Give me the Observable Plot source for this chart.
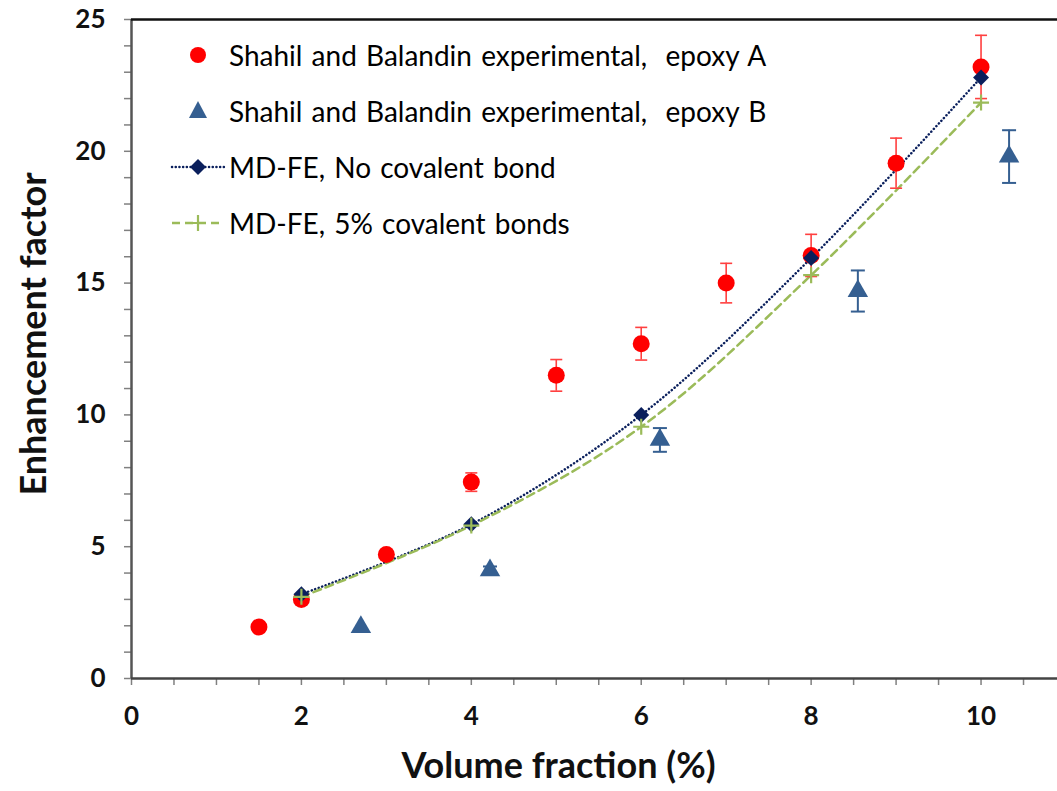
<!DOCTYPE html>
<html><head><meta charset="utf-8">
<script src="https://cdn.jsdelivr.net/npm/d3@7"></script>
<script src="https://cdn.jsdelivr.net/npm/@observablehq/plot@0.6"></script>
<style>
body{margin:0;background:#fff;}
#wrap{position:relative;width:1057px;height:791px;font-family:Lato,sans-serif;}
#legend{position:absolute;left:170px;top:27px;}
.row{display:flex;align-items:center;height:56px;font-size:28px;color:#000;white-space:pre;word-spacing:2px;}
.row svg{width:56px;height:30px;margin-right:3px;flex:none;}
</style></head><body><div id="wrap"></div>
<script>
// --- data ---
const epoxyA_x   = [1.5, 2, 3, 4, 5, 6, 7, 8, 9, 10];
const epoxyA_y   = [1.95, 3.0, 4.7, 7.45, 11.5, 12.7, 15.0, 16.05, 19.55, 23.2];
const epoxyA_err = [0, 0, 0, 0.35, 0.6, 0.62, 0.75, 0.8, 0.95, 1.2];
const epoxyB_x   = [2.7, 4.22, 6.22, 8.55, 10.33];
const epoxyB_y   = [1.95, 4.1, 9.05, 14.7, 19.8];
const epoxyB_err = [0, 0.15, 0.45, 0.78, 1.0];
const md_x       = [2, 4, 6, 8, 10];
const mdNoBond_y = [3.2, 5.85, 10.0, 15.95, 22.8];
const md5pct_y   = [3.1, 5.8, 9.55, 15.3, 21.85];
const xTickLabels = [0, 2, 4, 6, 8, 10];
const yTickLabels = [0, 5, 10, 15, 20, 25];
const legendLabels = [
  "Shahil and Balandin experimental,  epoxy A",
  "Shahil and Balandin experimental,  epoxy B",
  "MD-FE, No covalent bond",
  "MD-FE, 5% covalent bonds"
];

const RED = "#ff0000", ERR_RED = "#ff4040", TRI = "#355f91", NAVY = "#0a1f5c", GREEN = "#9bbb59";

const A = epoxyA_x.map((x, i) => ({x, y: epoxyA_y[i], e: epoxyA_err[i]}));
const B = epoxyB_x.map((x, i) => ({x, y: epoxyB_y[i], e: epoxyB_err[i]}));
const M0 = md_x.map((x, i) => ({x, y: mdNoBond_y[i]}));
const M5 = md_x.map((x, i) => ({x, y: md5pct_y[i]}));

const capSym = {draw(ctx, size){ const r = Math.sqrt(size/Math.PI); ctx.moveTo(-r,0); ctx.lineTo(r,0); }};
const plusSym = {draw(ctx, size){ const r = Math.sqrt(size/Math.PI); ctx.moveTo(-r,0); ctx.lineTo(r,0); ctx.moveTo(0,-r); ctx.lineTo(0,r); }};

const errBars = (data, color, capR, width) => [
  Plot.ruleX(data.filter(d => d.e > 0), {x: "x", y1: d => d.y - d.e, y2: d => d.y + d.e, stroke: color, strokeWidth: width}),
  Plot.dot(data.filter(d => d.e > 0), {x: "x", y: d => d.y + d.e, symbol: capSym, r: capR, stroke: color, strokeWidth: width}),
  Plot.dot(data.filter(d => d.e > 0), {x: "x", y: d => d.y - d.e, symbol: capSym, r: capR, stroke: color, strokeWidth: width})
];

const chart = Plot.plot({
  width: 1057, height: 791,
  marginLeft: 131, marginRight: 0, marginTop: 19, marginBottom: 113,
  style: {fontFamily: "Lato, sans-serif", background: "#fff", overflow: "visible"},
  x: {domain: [0, 10.9]},
  y: {domain: [0, 25]},
  marks: [
    // minor ticks
    Plot.axisX(d3.range(0, 10.51, 0.5), {tickSize: 7, tickFormat: () => "", stroke: "#808080", strokeWidth: 1.5, label: null}),
    Plot.axisY(d3.range(0, 25.1, 1), {tickSize: 7, tickFormat: () => "", stroke: "#808080", strokeWidth: 1.5, label: null}),
    // labelled ticks
    Plot.axisX(xTickLabels, {tickSize: 0, tickPadding: 28, fontSize: 26, fontWeight: "bold", fill: "#111", label: null}),
    Plot.axisY(yTickLabels, {tickSize: 0, tickPadding: 26, fontSize: 26, fontWeight: "bold", fill: "#111", label: null}),
    // frame lines
    Plot.ruleX([0], {stroke: "#555", strokeWidth: 2.5}),
    Plot.ruleY([0], {stroke: "#444", strokeWidth: 2.5}),
    Plot.ruleY([25], {stroke: "#111", strokeWidth: 2.5}),
    // axis titles
    Plot.text(["Volume fraction (%)"], {frameAnchor: "bottom", textAnchor: "middle", dx: -36, dy: 99, fontSize: 36, fontWeight: "bold", fill: "#111"}),
    Plot.text(["Enhancement factor"], {frameAnchor: "left", textAnchor: "middle", rotate: -90, dx: -97, dy: -15, fontSize: 36, fontWeight: "bold", fill: "#111"}),
    // model lines
    Plot.line(M0, {x: "x", y: "y", stroke: NAVY, strokeWidth: 2.5, strokeDasharray: "0.1,3.6", strokeLinecap: "round", curve: "catmull-rom"}),
    Plot.line(M5, {x: "x", y: "y", stroke: GREEN, strokeWidth: 2.5, strokeDasharray: "8,5", curve: "catmull-rom"}),
    // epoxy A
    ...errBars(A, ERR_RED, 6, 1.6),
    Plot.dot(A, {x: "x", y: "y", r: 8.5, fill: RED, stroke: "none"}),
    // epoxy B
    ...errBars(B, TRI, 7, 2),
    Plot.dot(B, {x: "x", y: "y", symbol: "triangle", r: 7.6, fill: TRI, stroke: "none"}),
    // MD-FE markers
    Plot.dot(M0, {x: "x", y: "y", symbol: "diamond2", r: 7.2, fill: NAVY, stroke: "none"}),
    Plot.dot(M5, {x: "x", y: "y", symbol: plusSym, r: 8, stroke: GREEN, strokeWidth: 2.2})
  ]
});

const wrap = document.getElementById("wrap");
wrap.appendChild(chart);

// legend
const sw = [
  `<circle cx="28" cy="15" r="8" fill="${RED}"/>`,
  `<path d="M28,5 L37,22 L19,22 Z" fill="${TRI}"/>`,
  `<line x1="2" y1="15" x2="54" y2="15" stroke="${NAVY}" stroke-width="2.5" stroke-dasharray="0.1,3.6" stroke-linecap="round"/><path d="M28,7 L36,15 L28,23 L20,15 Z" fill="${NAVY}"/>`,
  `<line x1="2" y1="15" x2="54" y2="15" stroke="${GREEN}" stroke-width="2.5" stroke-dasharray="8,5"/><path d="M20,15 L36,15 M28,7 L28,23" stroke="${GREEN}" stroke-width="2.2"/>`
];
const leg = document.createElement("div");
leg.id = "legend";
leg.innerHTML = legendLabels.map((t, i) => `<div class="row"><svg viewBox="0 0 56 30">${sw[i]}</svg><span>${t}</span></div>`).join("");
wrap.appendChild(leg);
</script></body></html>
